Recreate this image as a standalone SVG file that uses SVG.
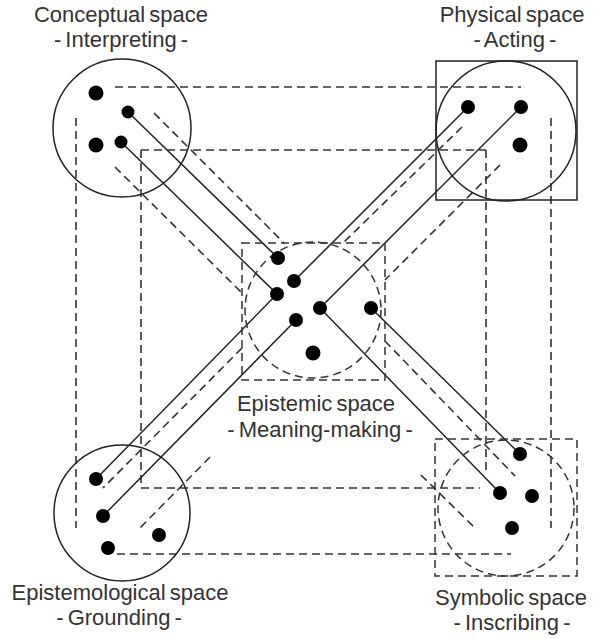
<svg xmlns="http://www.w3.org/2000/svg" width="593" height="638" viewBox="0 0 593 638">
  <style>
    .bg { fill: #ffffff; }
    .ring { fill: none; stroke: #222; stroke-width: 1.5; }
    .ring-d { fill: none; stroke: #333; stroke-width: 1.5; stroke-dasharray: 8 5; }
    .link { stroke: #222; stroke-width: 1.5; fill: none; }
    .dash { stroke: #333; stroke-width: 1.6; fill: none; stroke-dasharray: 8 5; }
    .dot { fill: #000; }
    .lbl { font-family: "Liberation Sans", Arial, sans-serif; font-size: 22px; word-spacing: -2px; fill: #333; text-anchor: middle; }
  </style>
  <rect class="bg" x="0" y="0" width="593" height="638"/>

  <!-- dashed frames linking the four outer spaces -->
  <g id="frames">
    <line class="dash" x1="115" y1="87" x2="521" y2="87"/>
    <line class="dash" x1="551" y1="118" x2="551" y2="528"/>
    <line class="dash" x1="117" y1="554" x2="511" y2="554"/>
    <line class="dash" x1="76" y1="118" x2="76" y2="528"/>
    <line class="dash" x1="141" y1="150" x2="486" y2="150"/>
    <line class="dash" x1="486" y1="150" x2="486" y2="475"/>
    <line class="dash" x1="141" y1="488" x2="480" y2="488"/>
    <line class="dash" x1="141" y1="150" x2="141" y2="488"/>
  </g>

  <!-- connectors through the epistemic space -->
  <g id="connectors">
    <line class="link" x1="128" y1="112" x2="278" y2="258"/>
    <line class="link" x1="121" y1="142" x2="277" y2="294"/>
    <line class="link" x1="277" y1="294" x2="96" y2="479"/>
    <line class="link" x1="296" y1="320" x2="103" y2="516"/>
    <line class="link" x1="468" y1="107" x2="294" y2="281"/>
    <line class="link" x1="521" y1="107" x2="320" y2="308"/>
    <line class="link" x1="320" y1="308" x2="500" y2="493"/>
    <line class="link" x1="371" y1="308" x2="520" y2="454"/>

    <line class="dash" x1="154" y1="113" x2="284" y2="243"/>
    <line class="dash" x1="115" y1="167" x2="241" y2="292"/>
    <line class="dash" x1="462" y1="127" x2="343" y2="243"/>
    <line class="dash" x1="500" y1="165" x2="385" y2="280"/>
    <line class="dash" x1="242" y1="348" x2="103" y2="488"/>
    <line class="dash" x1="210" y1="457" x2="140" y2="528"/>
    <line class="dash" x1="385" y1="341" x2="515" y2="476"/>
    <line class="dash" x1="421" y1="475" x2="475" y2="528"/>
  </g>

  <g id="conceptual">
    <circle class="ring" cx="122" cy="128" r="69"/>
    <circle class="dot" cx="96" cy="93" r="7.5"/>
    <circle class="dot" cx="128" cy="112" r="6.5"/>
    <circle class="dot" cx="96" cy="145" r="7.5"/>
    <circle class="dot" cx="121" cy="142" r="6.5"/>
    <text class="lbl" x="121" y="22">Conceptual space</text>
    <text class="lbl" x="121" y="47">- Interpreting -</text>
  </g>

  <g id="physical">
    <rect class="ring" x="436" y="61" width="141" height="139"/>
    <circle class="ring" cx="506" cy="131" r="70"/>
    <circle class="dot" cx="468" cy="107" r="7"/>
    <circle class="dot" cx="521" cy="107" r="7"/>
    <circle class="dot" cx="520" cy="145" r="7.5"/>
    <text class="lbl" x="512" y="22">Physical space</text>
    <text class="lbl" x="515" y="47">- Acting -</text>
  </g>

  <g id="epistemic">
    <rect class="ring-d" x="242" y="243" width="143" height="137"/>
    <circle class="ring-d" cx="313" cy="310" r="68"/>
    <circle class="dot" cx="278" cy="258" r="7"/>
    <circle class="dot" cx="294" cy="281" r="7"/>
    <circle class="dot" cx="277" cy="294" r="7"/>
    <circle class="dot" cx="320" cy="308" r="7"/>
    <circle class="dot" cx="371" cy="308" r="7"/>
    <circle class="dot" cx="296" cy="320" r="7"/>
    <circle class="dot" cx="313" cy="353" r="7.5"/>
    <text class="lbl" x="316" y="411">Epistemic space</text>
    <text class="lbl" x="320" y="437">- Meaning-making -</text>
  </g>

  <g id="epistemological">
    <circle class="ring" cx="122" cy="513" r="68"/>
    <circle class="dot" cx="96" cy="479" r="7"/>
    <circle class="dot" cx="103" cy="516" r="7"/>
    <circle class="dot" cx="159" cy="535" r="7"/>
    <circle class="dot" cx="108" cy="548" r="7"/>
    <text class="lbl" x="120" y="600">Epistemological space</text>
    <text class="lbl" x="119" y="625">- Grounding -</text>
  </g>

  <g id="symbolic">
    <rect class="ring-d" x="435" y="439" width="142" height="137"/>
    <circle class="ring-d" cx="506" cy="508" r="68"/>
    <circle class="dot" cx="520" cy="454" r="7"/>
    <circle class="dot" cx="500" cy="493" r="7"/>
    <circle class="dot" cx="532" cy="496" r="7"/>
    <circle class="dot" cx="512" cy="528" r="7"/>
    <text class="lbl" x="511" y="605">Symbolic space</text>
    <text class="lbl" x="512" y="630">- Inscribing -</text>
  </g>
</svg>
